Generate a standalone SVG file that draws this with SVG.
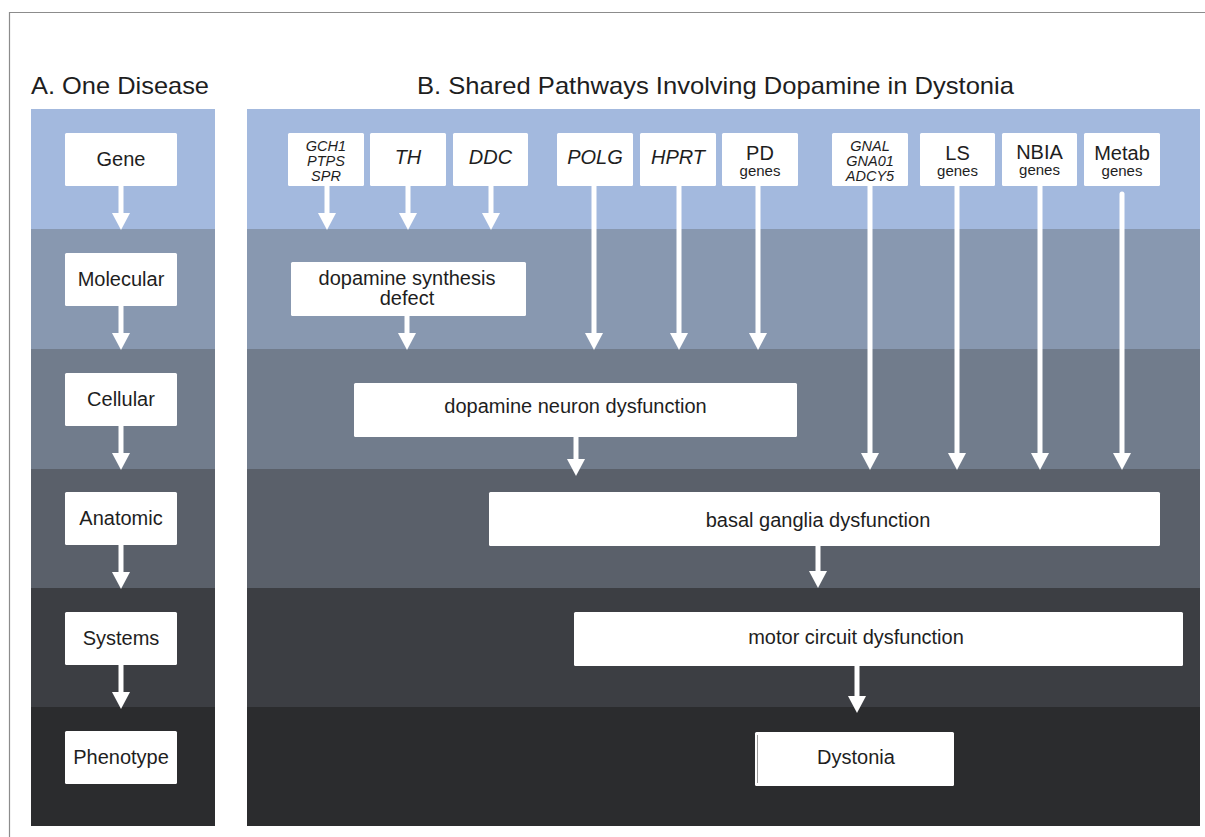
<svg xmlns="http://www.w3.org/2000/svg" width="1205" height="837" viewBox="0 0 1205 837">
<style>
  text { font-family: "Liberation Sans", Arial, Helvetica, sans-serif; fill: #1e1e1e; }
  .title { font-size: 24px; }
  .lbl { font-size: 20px; text-anchor: middle; }
  .it { font-size: 20px; font-style: italic; text-anchor: middle; }
  .its { font-size: 14.5px; font-style: italic; text-anchor: middle; }
  .sm { font-size: 15px; text-anchor: middle; }
  .box { fill: #ffffff; }
  .arr { stroke: #ffffff; stroke-width: 5; fill: none; marker-end: url(#ah); }
</style>
<defs>
  <marker id="ah" markerUnits="userSpaceOnUse" markerWidth="18" markerHeight="18" refX="1" refY="9" orient="auto">
    <path d="M0,0 L17,9 L0,18 z" fill="#ffffff"/>
  </marker>
</defs>
<rect width="1205" height="837" fill="#ffffff"/>
<path d="M9.5,837 V12.5 H1205" fill="none" stroke="#8c8c8c" stroke-width="1.2"/>

<g id="bands">
  <rect x="31" y="109" width="184" height="120" fill="#a3b9de"/>
  <rect x="31" y="229" width="184" height="120" fill="#8898b0"/>
  <rect x="31" y="349" width="184" height="120" fill="#717c8c"/>
  <rect x="31" y="469" width="184" height="119" fill="#5a606a"/>
  <rect x="31" y="588" width="184" height="119" fill="#3c3e43"/>
  <rect x="31" y="707" width="184" height="119" fill="#2b2c2e"/>
  <rect x="247" y="109" width="953" height="120" fill="#a3b9de"/>
  <rect x="247" y="229" width="953" height="120" fill="#8898b0"/>
  <rect x="247" y="349" width="953" height="120" fill="#717c8c"/>
  <rect x="247" y="469" width="953" height="119" fill="#5a606a"/>
  <rect x="247" y="588" width="953" height="119" fill="#3c3e43"/>
  <rect x="247" y="707" width="953" height="119" fill="#2b2c2e"/>
</g>

<g id="titles">
  <text class="title" x="31" y="94" textLength="178" lengthAdjust="spacingAndGlyphs">A. One Disease</text>
  <text class="title" x="417" y="93.5" textLength="597" lengthAdjust="spacingAndGlyphs">B. Shared Pathways Involving Dopamine in Dystonia</text>
</g>

<g id="connectors">
  <line class="arr" x1="121" y1="186" x2="121" y2="214"/>
  <line class="arr" x1="121" y1="306" x2="121" y2="334"/>
  <line class="arr" x1="121" y1="426" x2="121" y2="454"/>
  <line class="arr" x1="121" y1="545" x2="121" y2="573"/>
  <line class="arr" x1="121" y1="665" x2="121" y2="693"/>

  <line class="arr" x1="327" y1="186" x2="327" y2="214"/>
  <line class="arr" x1="408" y1="186" x2="408" y2="214"/>
  <line class="arr" x1="491" y1="186" x2="491" y2="214"/>

  <line class="arr" x1="594" y1="186" x2="594" y2="334"/>
  <line class="arr" x1="679" y1="186" x2="679" y2="334"/>
  <line class="arr" x1="758" y1="186" x2="758" y2="334"/>

  <line class="arr" x1="870" y1="186" x2="870" y2="454"/>
  <line class="arr" x1="957" y1="186" x2="957" y2="454"/>
  <line class="arr" x1="1040" y1="186" x2="1040" y2="454"/>
  <line class="arr" x1="1122" y1="194" x2="1122" y2="454" stroke-linecap="round"/>

  <line class="arr" x1="407" y1="316" x2="407" y2="334"/>
  <line class="arr" x1="576" y1="437" x2="576" y2="460"/>
  <line class="arr" x1="818" y1="546" x2="818" y2="572"/>
  <line class="arr" x1="857" y1="666" x2="857" y2="697"/>
</g>

<g id="node-gene"><rect class="box" x="65" y="133" width="112" height="53" rx="1.5"/><text class="lbl" x="121" y="165.5">Gene</text></g>
<g id="node-molecular"><rect class="box" x="65" y="253" width="112" height="53" rx="1.5"/><text class="lbl" x="121" y="285.5">Molecular</text></g>
<g id="node-cellular"><rect class="box" x="65" y="373" width="112" height="53" rx="1.5"/><text class="lbl" x="121" y="405.5">Cellular</text></g>
<g id="node-anatomic"><rect class="box" x="65" y="492" width="112" height="53" rx="1.5"/><text class="lbl" x="121" y="524.5">Anatomic</text></g>
<g id="node-systems"><rect class="box" x="65" y="612" width="112" height="53" rx="1.5"/><text class="lbl" x="121" y="644.5">Systems</text></g>
<g id="node-phenotype"><rect class="box" x="65" y="731" width="112" height="53" rx="1.5"/><text class="lbl" x="121" y="763.5">Phenotype</text></g>

<g id="node-gch1"><rect class="box" x="288" y="133" width="76" height="53" rx="1.5"/>
  <text class="its" x="326" y="150.5">GCH1</text><text class="its" x="326" y="165.5">PTPS</text><text class="its" x="326" y="180.5">SPR</text></g>
<g id="node-th"><rect class="box" x="370" y="133" width="76" height="53" rx="1.5"/><text class="it" x="408" y="164">TH</text></g>
<g id="node-ddc"><rect class="box" x="453" y="133" width="75" height="53" rx="1.5"/><text class="it" x="490.5" y="164">DDC</text></g>
<g id="node-polg"><rect class="box" x="557" y="133" width="76" height="53" rx="1.5"/><text class="it" x="595" y="164">POLG</text></g>
<g id="node-hprt"><rect class="box" x="640" y="133" width="76" height="53" rx="1.5"/><text class="it" x="678" y="164">HPRT</text></g>
<g id="node-pd"><rect class="box" x="722" y="133" width="76" height="53" rx="1.5"/><text class="lbl" x="760" y="159.5">PD</text><text class="sm" x="760" y="176">genes</text></g>
<g id="node-gnal"><rect class="box" x="832" y="133" width="76" height="53" rx="1.5"/>
  <text class="its" x="870" y="150.5">GNAL</text><text class="its" x="870" y="165.5">GNA01</text><text class="its" x="870" y="180.5">ADCY5</text></g>
<g id="node-ls"><rect class="box" x="920" y="133" width="75" height="53" rx="1.5"/><text class="lbl" x="957.5" y="159.5">LS</text><text class="sm" x="957.5" y="175.5">genes</text></g>
<g id="node-nbia"><rect class="box" x="1002" y="133" width="75" height="53" rx="1.5"/><text class="lbl" x="1039.5" y="158.5">NBIA</text><text class="sm" x="1039.5" y="175">genes</text></g>
<g id="node-metab"><rect class="box" x="1084" y="133" width="76" height="53" rx="1.5"/><text class="lbl" x="1122" y="159.5">Metab</text><text class="sm" x="1122" y="176">genes</text></g>

<g id="node-synthesis"><rect class="box" x="291" y="262" width="235" height="54" rx="1.5"/>
  <text class="lbl" x="407" y="284.5">dopamine synthesis</text><text class="lbl" x="407" y="304.5">defect</text></g>
<g id="node-neuron"><rect class="box" x="354" y="383" width="443" height="54" rx="1.5"/><text class="lbl" x="575.5" y="413">dopamine neuron dysfunction</text></g>
<g id="node-basal"><rect class="box" x="489" y="492" width="671" height="54" rx="1.5"/><text class="lbl" x="818" y="527">basal ganglia dysfunction</text></g>
<g id="node-motor"><rect class="box" x="574" y="612" width="609" height="54" rx="1.5"/><text class="lbl" x="856" y="644">motor circuit dysfunction</text></g>
<g id="node-dystonia"><rect class="box" x="755" y="732" width="199" height="54" rx="1.5"/>
  <line x1="757.5" y1="735" x2="757.5" y2="783" stroke="#9a9a9a" stroke-width="1"/>
  <text class="lbl" x="856" y="763.5">Dystonia</text></g>
</svg>
